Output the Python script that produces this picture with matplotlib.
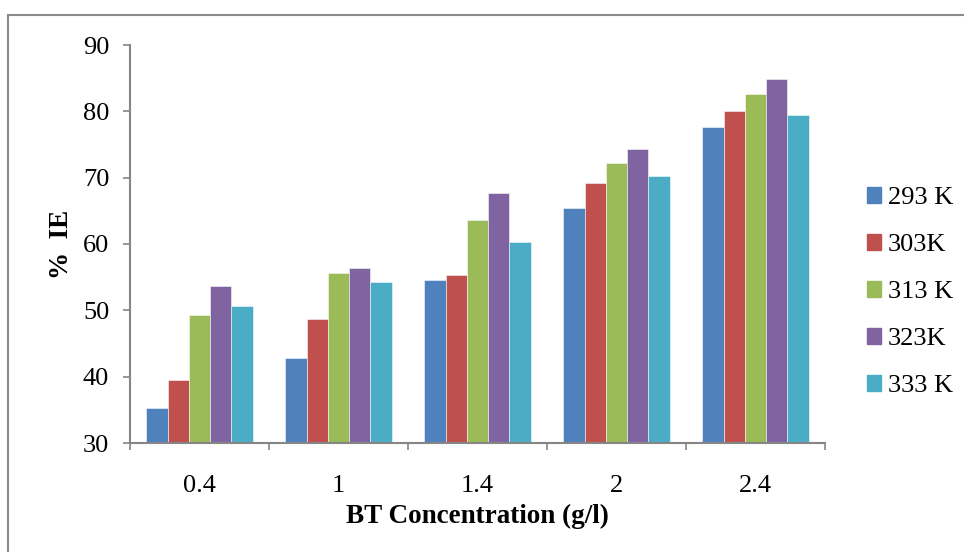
import matplotlib
matplotlib.use("Agg")
import matplotlib.pyplot as plt
import matplotlib.patches as mpatches
import numpy as np

categories = ["0.4", "1", "1.4", "2", "2.4"]
series_names = ["293 K", "303K", "313 K", "323K", "333 K"]
v293 = [35.3, 42.8, 54.5, 65.5, 77.6]
v303 = [39.5, 48.7, 55.3, 69.2, 80.1]
v313 = [49.3, 55.6, 63.6, 72.2, 82.6]
v323 = [53.7, 56.4, 67.7, 74.3, 84.9]
v333 = [50.7, 54.2, 60.3, 70.3, 79.5]
series = [v293, v303, v313, v323, v333]
colors = ["#4F81BD", "#C0504D", "#9BBB59", "#8064A2", "#4BACC6"]

plt.rcParams['font.family'] = ['Liberation Serif', 'DejaVu Serif']

fig = plt.figure(figsize=(9.64, 5.52), dpi=100)
ax = fig.add_axes([130/964, 1-443/552, (825-130)/964, (443-45)/552])

x = np.arange(len(categories))
bw = 0.153
for i, (vals, c, name) in enumerate(zip(series, colors, series_names)):
    ax.bar(x + (i - 2) * bw, np.array(vals) - 30, bottom=30, width=bw, color=c,
           edgecolor=(1, 1, 1, 0.6), linewidth=0.6, label=name, zorder=2)

ax.set_xlim(-0.5, len(categories) - 0.5)
ax.set_ylim(30, 90)
ax.set_yticks(np.arange(30, 91, 10))
ax.set_xticks(x)
ax.set_xticklabels(categories)
ax.set_xticks(np.arange(-0.5, len(categories), 1.0), minor=True)

gray = "#868686"
for s in ["top", "right"]:
    ax.spines[s].set_visible(False)
for s in ["left", "bottom"]:
    ax.spines[s].set_color(gray)
    ax.spines[s].set_linewidth(1.5)

ax.tick_params(axis="y", direction="out", length=5, width=1.2, color=gray,
               labelsize=19, pad=10)
ax.tick_params(axis="x", which="major", length=0, labelsize=19, pad=23)
ax.tick_params(axis="x", which="minor", direction="out", length=5, width=1.2, color=gray)

ax.set_xlabel("BT Concentration (g/l)", fontsize=19.5, fontweight="bold", labelpad=5)
ax.set_ylabel("%  IE", fontsize=19.5, fontweight="bold", labelpad=6)

handles = [mpatches.Patch(color=c, label=n) for c, n in zip(colors, series_names)]
fig.legend(handles=handles, loc="center left", bbox_to_anchor=(856/964, 1-292/552),
           frameon=False, fontsize=19, handlelength=0.55, handleheight=0.55,
           handletextpad=0.25, labelspacing=0.94, borderaxespad=0)

border = mpatches.Rectangle((8/964, -0.1), 1.2, 1.1 - 15/552, transform=fig.transFigure,
                            fill=False, edgecolor="#8a8a8a", linewidth=1.5, clip_on=False)
fig.patches.append(border)

fig.savefig("out.png", dpi=100)
